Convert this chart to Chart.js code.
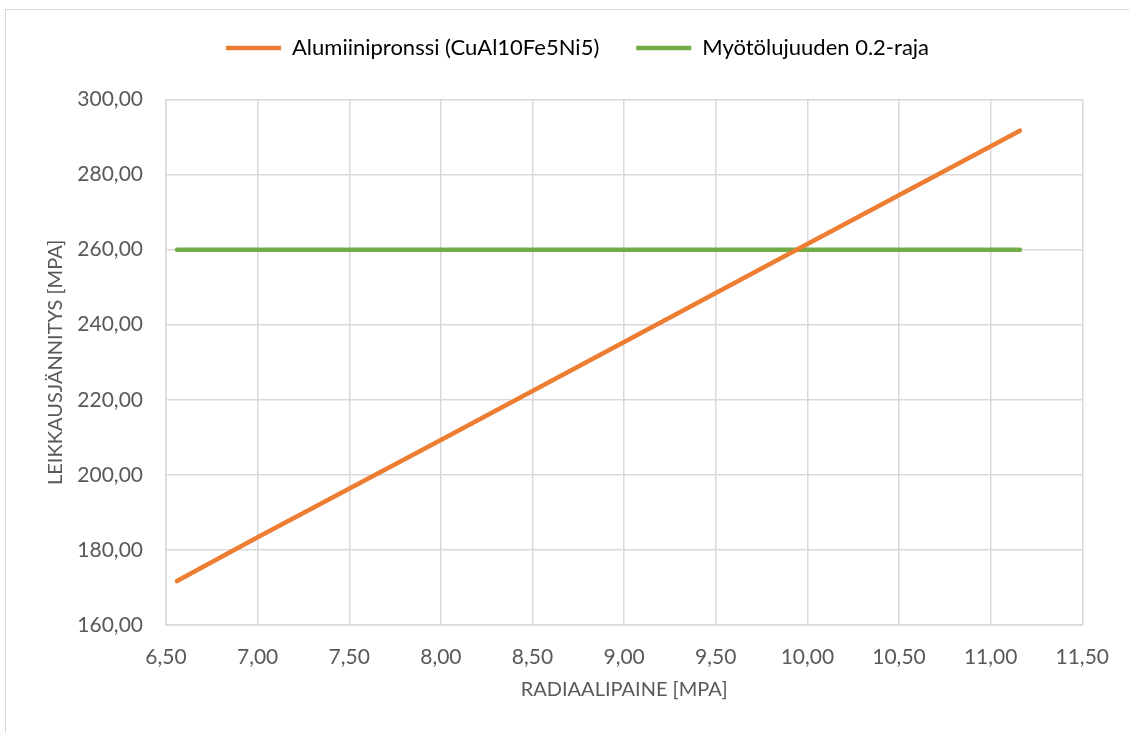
<!DOCTYPE html>
<html>
<head>
<meta charset="utf-8">
<script src="https://cdn.jsdelivr.net/npm/chart.js@4.4.1/dist/chart.umd.min.js"></script>
<style>
  html, body { margin: 0; padding: 0; background: #ffffff; }
  #wrap { position: relative; width: 1129px; height: 733px; overflow: hidden; }
  #frame { position: absolute; left: 5px; top: 9px; width: 1140px; height: 740px; border: 1.5px solid #d9d9d9; box-sizing: border-box; }
  canvas { position: absolute; left: 0; top: 0; }
</style>
</head>
<body>
<div id="wrap">
  <div id="frame"></div>
  <canvas id="chart" width="1129" height="733"></canvas>
</div>
<script>
// Radial pressure [MPa] against shear stress [MPa]
const bronzeX = [6.56, 7.00, 8.00, 9.00, 10.00, 11.16];
const bronzeY = [171.7, 183.4, 209.3, 235.4, 261.5, 291.7];
const yieldX = [6.56, 11.16];
const yieldY = [260.0, 260.0];
const seriesNames = ['Alumiinipronssi (CuAl10Fe5Ni5)', 'Myötölujuuden 0.2-raja'];
const xTitle = 'RADIAALIPAINE [MPA]';
const yTitle = 'LEIKKAUSJÄNNITYS [MPA]';

const toPoints = (xs, ys) => xs.map((x, i) => ({ x: x, y: ys[i] }));
const fmt = v => Number(v).toFixed(2).replace('.', ',');

const FONT = 'Lato';
const TEXT = '#595959';
const GRID = '#d9d9d9';
const LEGEND_HEIGHT = 99.5;
const LEGEND_SHIFT = 28;

// Fixed legend band height so the plot area starts just below it,
// and the legend row nudged a little to the right
const legendBand = {
  id: 'legendBand',
  afterInit(chart) {
    const lg = chart.legend;
    if (!lg) return;
    const fit = lg.fit;
    lg.fit = function () {
      fit.call(this);
      this.height = LEGEND_HEIGHT;
    };
  },
  afterLayout(chart) {
    if (chart.legend) chart.legend.left += LEGEND_SHIFT;
  }
};

new Chart(document.getElementById('chart'), {
  type: 'scatter',
  plugins: [legendBand],
  data: {
    datasets: [
      {
        label: seriesNames[0],
        data: toPoints(bronzeX, bronzeY),
        showLine: true,
        borderColor: '#ed7d31',
        backgroundColor: '#ed7d31',
        borderWidth: 4.5,
        borderCapStyle: 'round',
        pointRadius: 0,
        pointHoverRadius: 0
      },
      {
        label: seriesNames[1],
        data: toPoints(yieldX, yieldY),
        showLine: true,
        borderColor: '#70ad47',
        backgroundColor: '#70ad47',
        borderWidth: 4.5,
        borderCapStyle: 'round',
        pointRadius: 0,
        pointHoverRadius: 0
      }
    ]
  },
  options: {
    responsive: false,
    animation: false,
    events: [],
    layout: { padding: { left: 44, right: 46, top: 0, bottom: 31 } },
    plugins: {
      tooltip: { enabled: false },
      legend: {
        position: 'top',
        align: 'center',
        labels: {
          boxWidth: 55,
          boxHeight: 4.5,
          padding: 37,
          color: TEXT,
          font: { family: FONT, size: 22 },
          generateLabels: chart => chart.data.datasets.map((d, i) => ({
            text: d.label,
            fillStyle: d.borderColor,
            strokeStyle: d.borderColor,
            lineWidth: 0,
            datasetIndex: i
          }))
        }
      }
    },
    scales: {
      x: {
        type: 'linear',
        min: 6.5,
        max: 11.5,
        afterFit: s => { s.height = 77; },
        ticks: { stepSize: 0.5, callback: v => fmt(v), color: TEXT, padding: 20, maxRotation: 0, font: { family: FONT, size: 21 } },
        grid: { color: GRID, lineWidth: 1.5, drawTicks: false },
        border: { color: GRID, width: 1.5 },
        title: { display: true, text: xTitle, color: TEXT, padding: 0, font: { family: FONT, size: 20 } }
      },
      y: {
        type: 'linear',
        min: 160,
        max: 300,
        afterFit: s => { s.width = 122; },
        ticks: { stepSize: 20, callback: v => fmt(v), color: TEXT, padding: 23, font: { family: FONT, size: 21 } },
        grid: { color: GRID, lineWidth: 1.5, drawTicks: false },
        border: { color: GRID, width: 1.5 },
        title: { display: true, text: yTitle, color: TEXT, padding: 0, font: { family: FONT, size: 20 } }
      }
    }
  }
});
</script>
</body>
</html>
